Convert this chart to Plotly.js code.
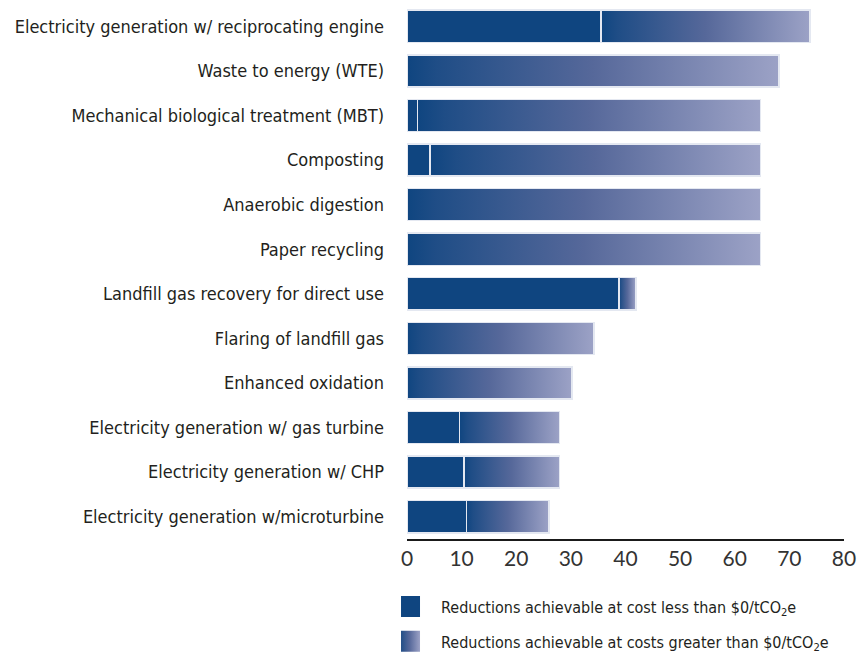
<!DOCTYPE html>
<html>
<head>
<meta charset="utf-8">
<script src="https://cdn.plot.ly/plotly-3.0.1.min.js"></script>
<style>
html,body{margin:0;padding:0;background:#fff;}
#chart{width:859px;height:657px;}
</style>
</head>
<body>
<div id="chart"></div>
<script>
const categories = [
  "Electricity generation w/ reciprocating engine",
  "Waste to energy (WTE)",
  "Mechanical biological treatment (MBT)",
  "Composting",
  "Anaerobic digestion",
  "Paper recycling",
  "Landfill gas recovery for direct use",
  "Flaring of landfill gas",
  "Enhanced oxidation",
  "Electricity generation w/ gas turbine",
  "Electricity generation w/ CHP",
  "Electricity generation w/microturbine"
];
// Reductions achievable at cost less than $0/tCO2e
const lowCost = [35.5, 0, 1.9, 4.2, 0, 0, 38.8, 0, 0, 9.6, 10.4, 10.9];
// Additional reductions achievable at costs greater than $0/tCO2e
const highCost = [38.3, 68.1, 62.8, 60.5, 64.7, 64.7, 3.1, 34.2, 30.2, 18.3, 17.5, 15.1];
const xTicks = [0, 10, 20, 30, 40, 50, 60, 70, 80];
const seriesNames = [
  "Reductions achievable at cost less than $0/tCO<sub>2</sub>e",
  "Reductions achievable at costs greater than $0/tCO<sub>2</sub>e"
];

const DARK = "#0f4580";
const LIGHT = "#9ca2c6";
const LABEL_FONT = "'Liberation Sans Narrow', 'DejaVu Sans Condensed', 'Roboto', sans-serif";

const traces = [
  {
    type: "bar", orientation: "h",
    y: categories, x: lowCost, name: seriesNames[0],
    width: 0.72,
    marker: {color: DARK, line: {color: "#e4e8f1", width: 1.5}},
    hoverinfo: "x+y", legendgroup: "a"
  },
  {
    type: "bar", orientation: "h",
    y: categories, x: highCost, name: seriesNames[1],
    width: 0.72,
    marker: {color: "#5a6b9c", line: {color: "#e4e8f1", width: 1.5}},
    hoverinfo: "x+y", legendgroup: "b"
  }
];

const layout = {
  width: 859, height: 657,
  margin: {l: 407, r: 15, t: 4, b: 118, autoexpand: false},
  paper_bgcolor: "#fff", plot_bgcolor: "#fff",
  barmode: "stack",
  showlegend: true,
  legend: {
    orientation: "v",
    x: -0.0137, xanchor: "left",
    y: -0.0946, yanchor: "top",
    font: {family: LABEL_FONT, size: 16, color: "#231f20"},
    traceorder: "grouped",
    tracegroupgap: 11,
    bgcolor: "rgba(0,0,0,0)"
  },
  xaxis: {
    range: [0, 80],
    tickvals: xTicks,
    ticktext: xTicks.map(String),
    showgrid: false, zeroline: false,
    showline: true, linecolor: "#1a1a1a", linewidth: 1.5,
    ticks: "", ticklabelstandoff: 0,
    tickfont: {family: "Lato, 'Open Sans', sans-serif", size: 21, color: "#333"},
    fixedrange: true
  },
  yaxis: {
    type: "category",
    autorange: "reversed",
    showgrid: false, zeroline: false, showline: false,
    ticks: "", ticklabelstandoff: 22,
    tickfont: {family: LABEL_FONT, size: 18, color: "#231f20"},
    fixedrange: true
  }
};

const gd = document.getElementById("chart");
Plotly.newPlot(gd, traces, layout, {displayModeBar: false, staticPlot: true}).then(function () {
  const svg = gd.querySelector(".main-svg");
  let defs = svg.querySelector("defs");
  if (!defs) { defs = document.createElementNS("http://www.w3.org/2000/svg", "defs"); svg.insertBefore(defs, svg.firstChild); }
  const grad = document.createElementNS("http://www.w3.org/2000/svg", "linearGradient");
  grad.setAttribute("id", "costGrad");
  grad.setAttribute("x1", "0"); grad.setAttribute("x2", "1");
  grad.setAttribute("y1", "0"); grad.setAttribute("y2", "0");
  [["0", DARK], ["0.08", "#1f4d86"], ["0.5", "#56689a"], ["1", LIGHT]].forEach(function (s) {
    const st = document.createElementNS("http://www.w3.org/2000/svg", "stop");
    st.setAttribute("offset", s[0]); st.setAttribute("stop-color", s[1]);
    grad.appendChild(st);
  });
  defs.appendChild(grad);
  const barTraces = gd.querySelectorAll(".barlayer .trace");
  if (barTraces[1]) {
    barTraces[1].querySelectorAll("path").forEach(function (p) { p.style.fill = "url(#costGrad)"; });
  }
  const legTraces = gd.querySelectorAll(".legend .traces");
  legTraces.forEach(function (t, i) {
    t.querySelectorAll(".legendpoints path").forEach(function (p) {
      p.setAttribute("d", "M-1,10.5H-22V-10.5H-1Z");
      p.style.stroke = "none";
      if (i === 1) p.style.fill = "url(#costGrad)";
    });
  });
});
</script>
</body>
</html>
